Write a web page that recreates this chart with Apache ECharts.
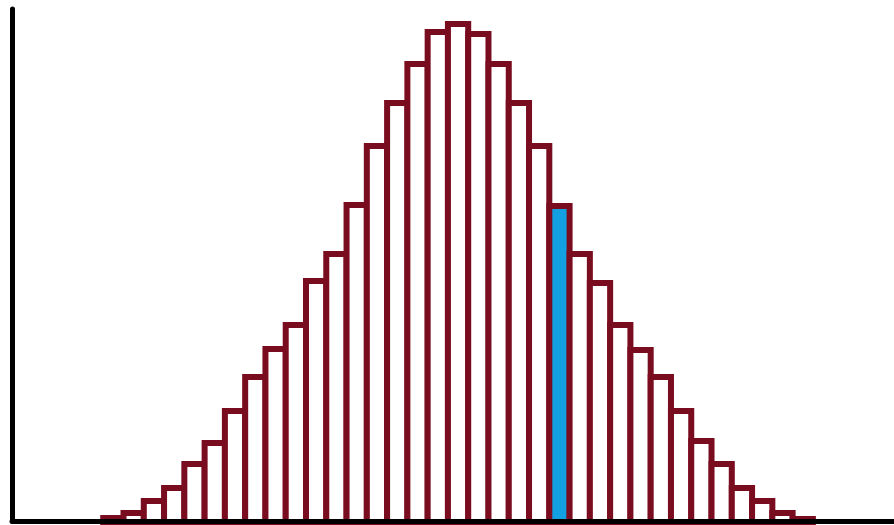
<!DOCTYPE html>
<html><head><meta charset="utf-8">
<script src="https://cdn.jsdelivr.net/npm/echarts@6/dist/echarts.min.js"></script>
<style>html,body{margin:0;padding:0;background:#fff}#c{width:894px;height:525px}</style>
</head><body><div id="c"></div>
<script>
// Bin counts (left to right) of the histogram
const counts = [3, 8, 20, 33, 57, 78, 110, 144, 172, 196, 240, 267, 316, 375, 418, 457, 489, 497, 487, 457, 418, 375, 315, 267, 238, 196, 171, 144, 110, 80, 57, 33, 20, 8, 2];
// Index of the highlighted bin
const highlightBin = 22;

const edgeColor = '#7a0c1f';
const fillColor = '#ffffff';
const highlightColor = '#12a0e2';

const chart = echarts.init(document.getElementById('c'), null, {renderer: 'canvas'});
chart.setOption({
  animation: false,
  backgroundColor: '#ffffff',
  grid: {left: 12, right: 0, top: 9, bottom: 4, containLabel: false},
  xAxis: {
    type: 'value', min: -5, max: 38.5, z: 10,
    axisLine: {show: true, onZero: false, lineStyle: {color: '#000', width: 5}},
    axisTick: {show: false}, axisLabel: {show: false}, splitLine: {show: false}
  },
  yAxis: {
    type: 'value', min: 0, max: 512, z: 10,
    axisLine: {show: true, onZero: false, lineStyle: {color: '#000', width: 5}},
    axisTick: {show: false}, axisLabel: {show: false}, splitLine: {show: false}
  },
  series: [{
    type: 'custom',
    clip: false,
    data: counts.map((v, i) => [i, v]),
    encode: {x: 0, y: 1},
    renderItem: function (params, api) {
      const i = api.value(0), v = api.value(1);
      const tl = api.coord([i - 0.5, v]);
      const br = api.coord([i + 0.5, 0]);
      return {
        type: 'rect',
        shape: {x: tl[0], y: tl[1], width: br[0] - tl[0], height: br[1] - tl[1] + 4},
        style: {
          fill: i === highlightBin ? highlightColor : fillColor,
          stroke: edgeColor,
          lineWidth: 6
        }
      };
    }
  }]
});
</script>
</body></html>
